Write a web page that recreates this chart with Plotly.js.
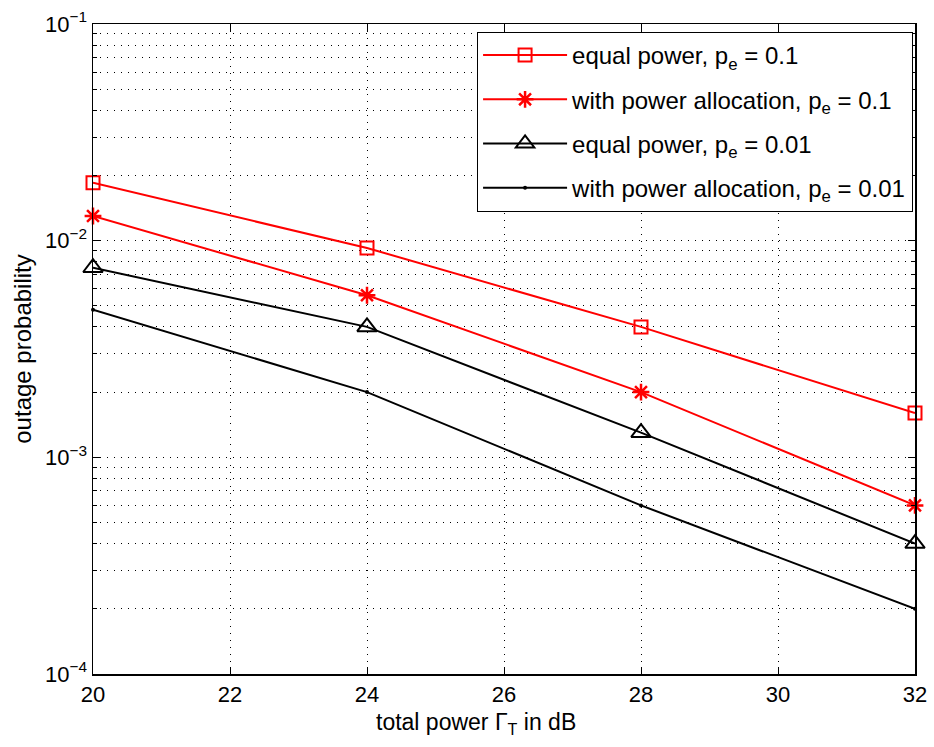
<!DOCTYPE html>
<html>
<head>
<meta charset="utf-8">
<script src="https://cdn.plot.ly/plotly-3.0.1.min.js"></script>
<style>html,body{margin:0;padding:0;background:#fff;}#chart{width:934px;height:747px;}</style>
</head>
<body>
<div id="chart"></div>
<script>
const powerDb = [20, 24, 28, 32];
const equalPower01 = [0.0185, 0.00925, 0.0040, 0.0016];
const powerAlloc01 = [0.0130, 0.0056, 0.0020, 0.0006];
const equalPower001 = [0.0075, 0.0040, 0.0013, 0.0004];
const powerAlloc001 = [0.0048, 0.0020, 0.0006, 0.0002];
const seriesNames = [
  'equal power, p<sub>e</sub> = 0.1',
  'with power allocation, p<sub>e</sub> = 0.1',
  'equal power, p<sub>e</sub> = 0.01',
  'with power allocation, p<sub>e</sub> = 0.01'
];
const xTicks = [20, 22, 24, 26, 28, 30, 32];
const yTicks = [1e-4, 1e-3, 1e-2, 1e-1];
const yTickText = ['10<sup>−4</sup>', '10<sup>−3</sup>', '10<sup>−2</sup>', '10<sup>−1</sup>'];
const xTitle = 'total power Γ<sub>T</sub> in dB';
const yTitle = 'outage probability';

const traces = [
  {x: powerDb, y: equalPower01, name: seriesNames[0], mode: 'lines+markers', legendgroup: 'a', cliponaxis: false,
   line: {color: '#ff0000', width: 2},
   marker: {symbol: 'square-open', size: 13, color: '#ff0000', line: {width: 2, color: '#ff0000'}}},
  {x: powerDb, y: powerAlloc01, name: seriesNames[1], mode: 'lines+markers', legendgroup: 'b', cliponaxis: false,
   line: {color: '#ff0000', width: 2},
   marker: {symbol: 'asterisk-open', size: 14, color: '#ff0000', line: {width: 2.5, color: '#ff0000'}}},
  {x: powerDb, y: equalPower001, name: seriesNames[2], mode: 'lines+markers', legendgroup: 'c', cliponaxis: false,
   line: {color: '#000000', width: 2},
   marker: {symbol: 'triangle-up-open', size: 17, color: '#000000', line: {width: 2, color: '#000000'}}},
  {x: powerDb, y: powerAlloc001, name: seriesNames[3], mode: 'lines+markers', legendgroup: 'd', cliponaxis: false,
   line: {color: '#000000', width: 2},
   marker: {symbol: 'circle', size: 4, color: '#000000'}}
];

const fontFam = 'Liberation Sans, Arial, Helvetica, sans-serif';
const gridDash = '1px,6px';
const layout = {
  width: 934, height: 747,
  margin: {l: 93, r: 19, t: 24, b: 73},
  paper_bgcolor: '#ffffff', plot_bgcolor: '#ffffff',
  font: {family: fontFam, size: 22, color: '#000'},
  showlegend: true,
  legend: {x: 0.467, y: 0.988, xanchor: 'left', yanchor: 'top',
    bgcolor: '#ffffff', bordercolor: '#000', borderwidth: 1.2,
    font: {family: fontFam, size: 24, color: '#000'}, tracegroupgap: 10,
    itemwidth: 84, traceorder: 'grouped'},
  xaxis: {
    range: [20, 32], tickvals: xTicks, ticks: 'inside', ticklen: 7, tickwidth: 1,
    tickcolor: '#000', showline: true, linecolor: '#000', linewidth: 1.5, mirror: 'ticks',
    showgrid: true, gridcolor: '#000', gridwidth: 1, griddash: gridDash, zeroline: false,
    tickfont: {size: 22}
  },
  yaxis: {
    type: 'log', range: [-4, -1], tickvals: yTicks, ticktext: yTickText,
    ticks: 'inside', ticklen: 7, tickwidth: 1, tickcolor: '#000',
    showline: true, linecolor: '#000', linewidth: 1.5, mirror: 'ticks',
    showgrid: true, gridcolor: '#000', gridwidth: 1, griddash: gridDash, zeroline: false,
    tickfont: {size: 22},
    minor: {dtick: 'D1', showgrid: true, gridcolor: '#000', gridwidth: 1, griddash: gridDash,
      ticks: 'inside', ticklen: 4, tickcolor: '#000'},
    title: {text: yTitle, font: {size: 24}, standoff: 6}
  },
  annotations: [{
    text: xTitle, xref: 'paper', yref: 'paper', x: 0.466, y: -0.05,
    xanchor: 'center', yanchor: 'top', showarrow: false,
    font: {family: fontFam, size: 23, color: '#000'}
  }]
};

Plotly.newPlot('chart', traces, layout, {staticPlot: true, displayModeBar: false});
</script>
</body>
</html>
